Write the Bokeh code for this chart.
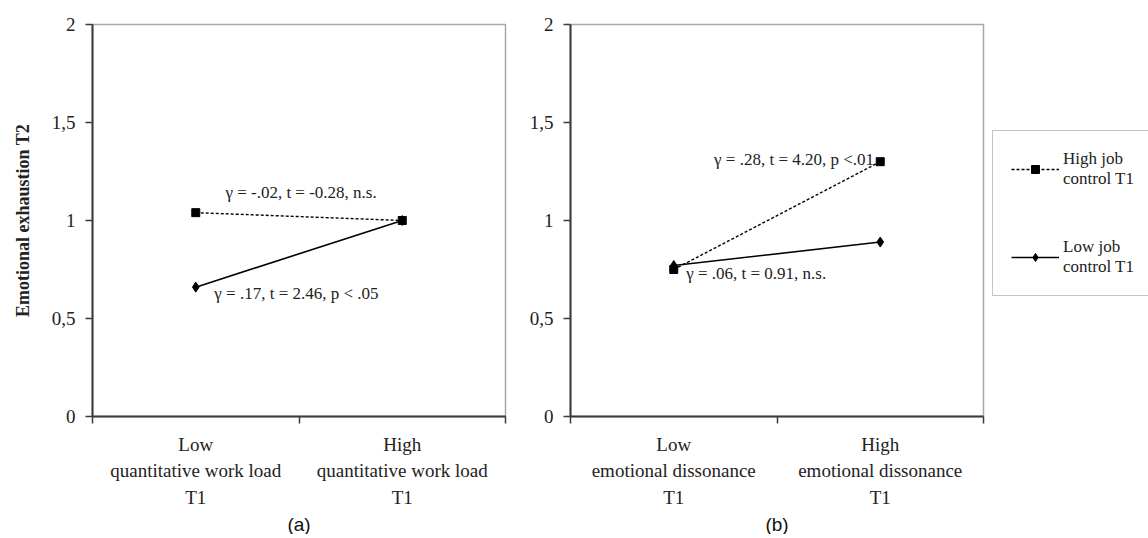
from bokeh.plotting import figure
from bokeh.layouts import row
from bokeh.models import Range1d, FixedTicker, Label, Legend, LegendItem, Title
from bokeh.embed import file_html
from bokeh.resources import INLINE

# ---- data ----
levels = ["Low", "High"]
panel_a_labels = ["Low\nquantitative work load\nT1", "High\nquantitative work load\nT1"]
panel_b_labels = ["Low\nemotional dissonance\nT1", "High\nemotional dissonance\nT1"]
a_high_control = [1.04, 1.00]
a_low_control = [0.66, 1.00]
b_high_control = [0.75, 1.30]
b_low_control = [0.77, 0.89]
y_ticks = [0, 0.5, 1, 1.5, 2]
y_tick_labels = ["0", "0,5", "1", "1,5", "2"]
series_names = ["High job\ncontrol T1", "Low job\ncontrol T1"]
ann_a = ["\u03b3 = -.02, t = -0.28, n.s.", "\u03b3 = .17, t = 2.46, p < .05"]
ann_b = ["\u03b3 = .28, t = 4.20, p <.01", "\u03b3 = .06, t = 0.91, n.s."]
captions = ["(a)", "(b)"]
y_title = "Emotional exhaustion T2"

SERIF = "Liberation Serif"
AXIS_COL = "#3a3a3a"
H = 534

xpos = [i + 0.5 for i in range(len(levels))]

HIGH_STYLE = dict(line_color="black", line_width=1.4, line_dash="3 2")
LOW_STYLE = dict(line_color="black", line_width=1.6)
HIGH_MARK = dict(marker="square", size=8, color="black")
LOW_MARK = dict(marker="diamond", size=10, color="black")


def make_panel(width, bl, br, cat_labels, high, low, caption):
    p = figure(width=width, height=H, output_backend="svg", toolbar_location=None,
               x_range=Range1d(0, 2), y_range=Range1d(0, 2),
               min_border_left=bl, min_border_right=br, min_border_top=24, min_border_bottom=10)
    p.grid.visible = False
    p.outline_line_color = "#a8a8a8"
    p.outline_line_width = 1.5
    p.background_fill_color = "white"
    p.border_fill_color = "white"

    xa = p.xaxis[0]
    xa.ticker = FixedTicker(ticks=xpos, minor_ticks=[0, 1, 2])
    xa.major_label_overrides = {xpos[i]: cat_labels[i] for i in range(len(xpos))}
    xa.major_tick_line_color = None
    xa.minor_tick_line_color = AXIS_COL
    xa.minor_tick_line_width = 1.5
    xa.minor_tick_in = 0
    xa.minor_tick_out = 7
    xa.axis_line_color = AXIS_COL
    xa.axis_line_width = 2
    xa.major_label_text_font = SERIF
    xa.major_label_text_font_size = "19px"
    xa.major_label_text_color = "#222222"
    xa.major_label_standoff = 10
    xa.major_label_text_line_height = 1.28

    ya = p.yaxis[0]
    ya.ticker = FixedTicker(ticks=y_ticks)
    ya.major_label_overrides = {float(y_ticks[i]): y_tick_labels[i] for i in range(len(y_ticks))}
    ya.major_tick_line_color = AXIS_COL
    ya.major_tick_line_width = 1.5
    ya.major_tick_in = 0
    ya.major_tick_out = 7
    ya.minor_tick_line_color = None
    ya.axis_line_color = AXIS_COL
    ya.axis_line_width = 2
    ya.major_label_text_font = SERIF
    ya.major_label_text_font_size = "19px"
    ya.major_label_text_color = "#222222"
    ya.major_label_standoff = 10

    p.line(xpos, high, **HIGH_STYLE)
    p.scatter(xpos, high, **HIGH_MARK)
    p.line(xpos, low, **LOW_STYLE)
    p.scatter(xpos, low, **LOW_MARK)

    p.add_layout(Title(text=caption, align="center", text_font="Liberation Sans",
                       text_font_size="19px", text_font_style="normal", text_color="#111111",
                       standoff=0), "below")
    return p


pa = make_panel(515, 92, 10, panel_a_labels, a_high_control, a_low_control, captions[0])
pb = make_panel(470, 55, 2, panel_b_labels, b_high_control, b_low_control, captions[1])

pa.yaxis[0].axis_label = y_title
pa.yaxis[0].axis_label_text_font = SERIF
pa.yaxis[0].axis_label_text_font_size = "18px"
pa.yaxis[0].axis_label_text_font_style = "bold"
pa.yaxis[0].axis_label_text_color = "#222222"
pa.yaxis[0].axis_label_standoff = 16

ann_style = dict(text_font=SERIF, text_font_size="17px", text_color="#222222", text_baseline="middle")
pa.add_layout(Label(x=1.01, y=1.143, text=ann_a[0], text_align="center", **ann_style))
pa.add_layout(Label(x=0.59, y=0.628, text=ann_a[1], text_align="left", **ann_style))
pb.add_layout(Label(x=1.47, y=1.311, text=ann_b[0], text_align="right", **ann_style))
pb.add_layout(Label(x=0.56, y=0.728, text=ann_b[1], text_align="left", **ann_style))

# legend panel: same series drawn off-screen so that the legend can show their glyphs
pc = figure(width=163, height=H, output_backend="svg", toolbar_location=None,
            x_range=Range1d(100, 101), y_range=Range1d(100, 101), min_border=0,
            min_border_top=24, x_axis_location=None, y_axis_location=None)
pc.grid.visible = False
pc.outline_line_color = None
rh = [pc.line(xpos, b_high_control, **HIGH_STYLE), pc.scatter(xpos, b_high_control, **HIGH_MARK)]
rl = [pc.line(xpos, b_low_control, **LOW_STYLE), pc.scatter(xpos, b_low_control, **LOW_MARK)]
legend = Legend(items=[LegendItem(label=series_names[0], renderers=rh),
                       LegendItem(label=series_names[1], renderers=rl)],
                location=(7, 120), orientation="vertical")
legend.label_text_font = SERIF
legend.label_text_font_size = "17px"
legend.label_text_color = "#222222"
legend.glyph_width = 48
legend.label_standoff = 4
legend.padding = 18
legend.spacing = 48
legend.margin = 0
legend.border_line_color = "#8a8a8a"
legend.border_line_width = 1
legend.background_fill_alpha = 1.0
pc.add_layout(legend, "center")

layout = row(pa, pb, pc)
open("out.html", "w").write(file_html(layout, INLINE))
